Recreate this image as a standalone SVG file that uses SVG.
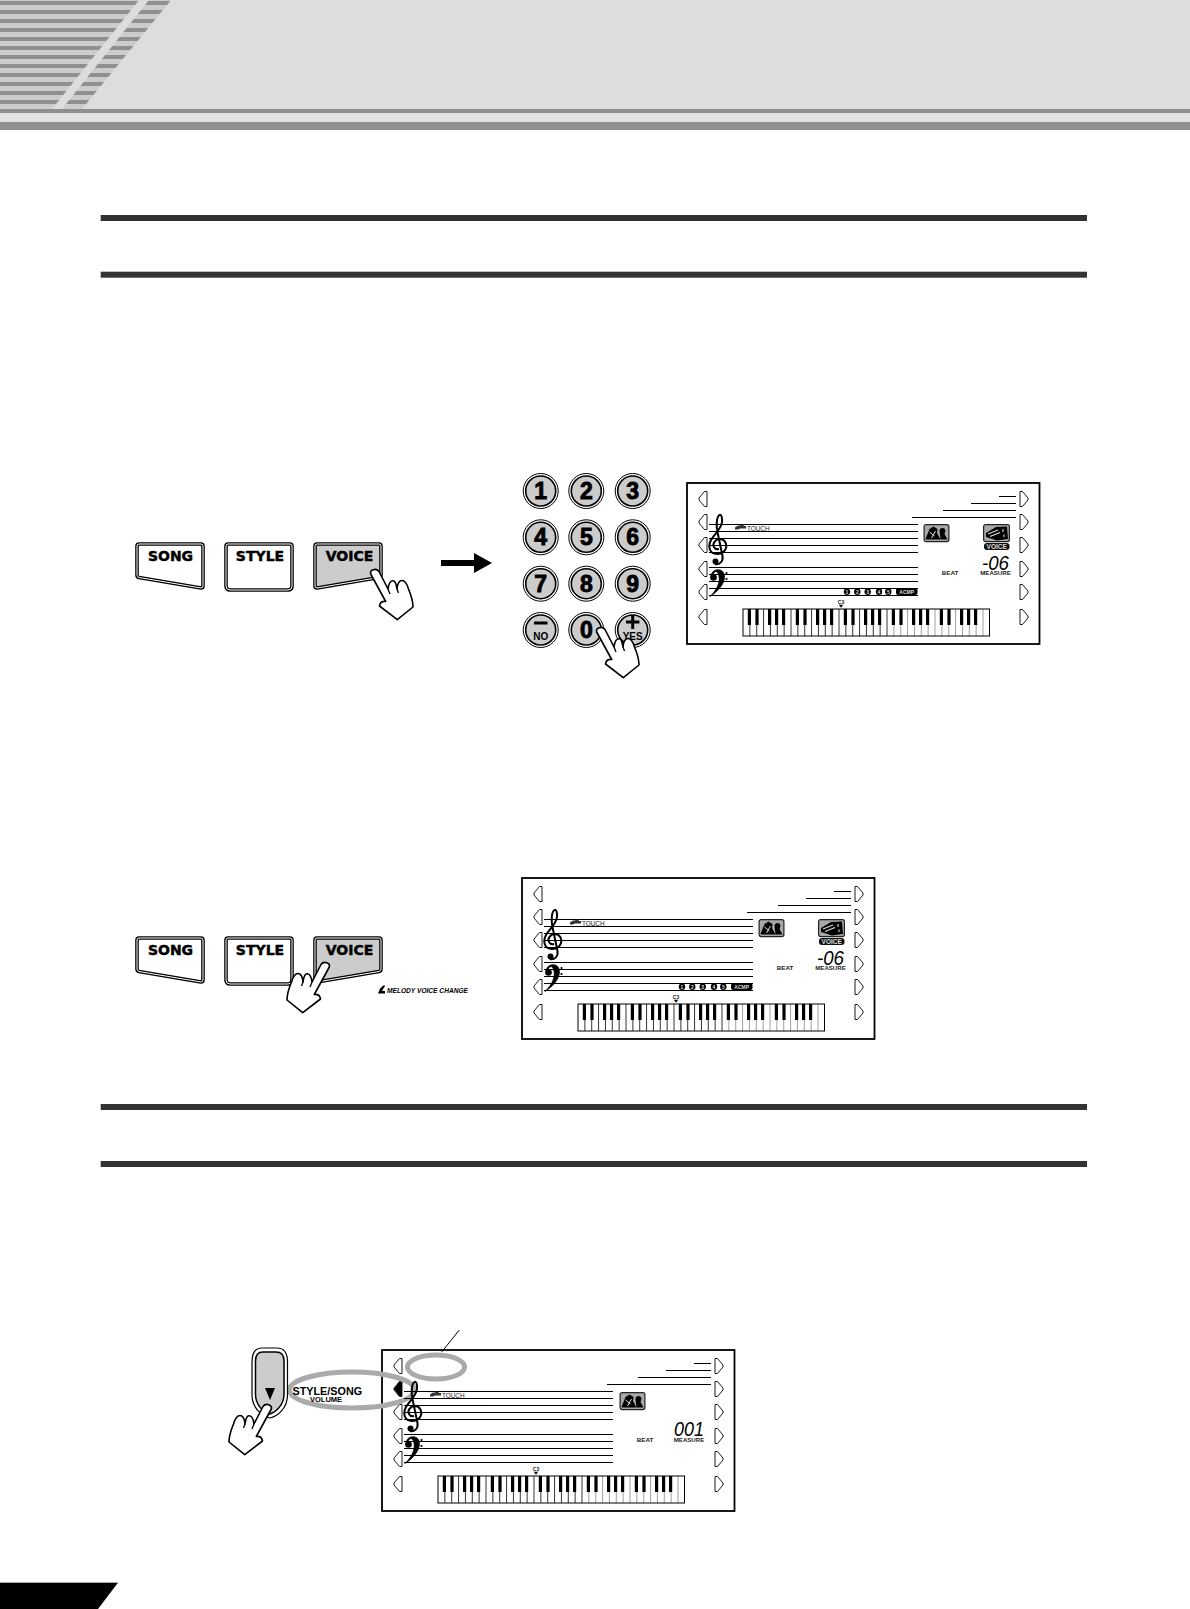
<svg xmlns="http://www.w3.org/2000/svg" width="1190" height="1609" viewBox="0 0 1190 1609">
<style>
text{font-family:"Liberation Sans",Arial,sans-serif;fill:#000}
.rule{fill:#333}
.btn{font-family:"DejaVu Sans",sans-serif;font-weight:700;font-size:14px;text-anchor:middle;stroke:#000;stroke-width:.45}
.dig{font-weight:700;font-size:23px;text-anchor:middle;stroke:#000;stroke-width:.9}
.tiny{font-weight:700;font-size:6px;text-anchor:middle;fill:#222}
.touch{font-size:6.4px;fill:#222}
.chip{font-weight:700;font-size:5px;text-anchor:middle;fill:#ddd}
.seg{font-style:italic;font-size:21px;fill:#000}
.l{stroke:#000;stroke-width:1;fill:none}
.ring{fill:#ccc;stroke:#000;stroke-width:1.6}
.ring2{fill:none;stroke:#000;stroke-width:1}
.o{fill:none;stroke:#aaa;stroke-width:5}
</style>
<defs>
<clipPath id="hz1"><polygon points="0,0 139,0 52,109 0,109"/></clipPath>
<clipPath id="hz2"><polygon points="149,0 171,0 82,109 62,109"/></clipPath>
<path id="stripes" d="M0 3H180M0 12H180M0 21H180M0 30H180M0 39H180M0 48H180M0 57H180M0 66H180M0 75H180M0 84H180M0 93H180M0 102H180" stroke="#909090" stroke-width="4" fill="none"/>
<g id="hand"><path d="M-2.3,4C-3.5,0 3,-2.5 6,1.5L15,19C15.5,13 18,10 21,11C23,12 23.5,16 24,19C24.500,14 26.5,10.5 29,10.5C32,10.5 34,14 35.5,19C38,25 40,31 40,37L24.3,49.7L6.5,36C7,33 9,31 12.7,31.5Z" fill="#fff" stroke="#000" stroke-width="1.6" stroke-linejoin="round"/><path d="M15,19L17,24M24,19L25.5,23" fill="none" stroke="#000" stroke-width="1.3"/></g>
<path id="bL" d="M2,3Q2,1 4,1H66Q68,1 68,3V43Q68,45 66,45L4,34.500Q2,34 2,32Z"/>
<path id="bS" d="M2,3Q2,1 4,1H66Q68,1 68,3V43Q68,47 64,47H6Q2,47 2,43Z"/>
<path id="bR" d="M2,3Q2,1 4,1H66Q68,1 68,3V32Q68,34 66,34.500L4,45Q2,45 2,43Z"/>
<g id="buttons">
<use href="#bL" x="135" y="543" fill="#fff" stroke="#000" stroke-width="3.6" stroke-linejoin="round"/><use href="#bL" x="135" y="543" fill="none" stroke="#fff" stroke-width="1"/>
<use href="#bS" x="224" y="543" fill="#fff" stroke="#000" stroke-width="3.6" stroke-linejoin="round"/><use href="#bS" x="224" y="543" fill="none" stroke="#fff" stroke-width="1"/>
<use href="#bR" x="313" y="543" fill="#ccc" stroke="#000" stroke-width="3.6" stroke-linejoin="round"/><use href="#bR" x="313" y="543" fill="none" stroke="#fff" stroke-width="1"/>
</g>
<path id="chevL" d="M5.5,-7.5H8V7.5H5.5L0,1V-1Z" fill="#fff" stroke="#000" stroke-width=".9"/>
<path id="chevR" d="M2.5,-7.5H0V7.5H2.5L8,1V-1Z" fill="#fff" stroke="#000" stroke-width=".9"/>
<g id="frame">
<rect x="1" y="1" width="352.500" height="161" fill="#fff" stroke="#000" stroke-width="1.800"/>
<use href="#chevL" x="13" y="17"/><use href="#chevL" x="13" y="40"/><use href="#chevL" x="13" y="63"/><use href="#chevL" x="13" y="87"/><use href="#chevL" x="13" y="110"/><use href="#chevL" x="13" y="135"/>
<use href="#chevR" x="334" y="17"/><use href="#chevR" x="334" y="40"/><use href="#chevR" x="334" y="63"/><use href="#chevR" x="334" y="87"/><use href="#chevR" x="334" y="110"/><use href="#chevR" x="334" y="135"/>
<path class="l" d="M313 14.500H330M285 21.500H330M257 28.500H330M226 35.500H330"/>
</g>
<g id="staff">
<path class="l" d="M23 42.500H232M23 49.500H232M23 56.500H232M23 63.500H232M23 70.500H232M23 85.500H232M23 92.500H232M23 99.500H232M23 106.500H232M23 113.500H232"/>
<path d="M33,67C28,68 26,63 28.500,60C31,56 37,56 39.500,60.500C42,66 38,72 31,72C23.500,72 22,65 24.500,59C27,53 35,48 36,40C36.500,35 35,32 33.500,33C30.500,35 30,43 31.500,50L36.500,74C37.500,80 33,83 29,82" fill="none" stroke="#000" stroke-width="2"/>
<circle cx="29.500" cy="79.500" r="3"/>
<circle cx="27.500" cy="95.500" r="3.300"/>
<path d="M25,96C24.500,88 32,86 36,89C41,93 39,105 24,114.500C33,106 35,97 32,91C30,88 27,90 26,96Z" stroke="#000" stroke-width=".8"/>
<circle cx="40.500" cy="91" r="1.100"/><circle cx="40.500" cy="97" r="1.100"/>
</g>
<g id="oct">
<path d="M6.860 0V27M13.710 0V27M20.570 0V27M27.430 0V27M34.290 0V27M41.140 0V27M48 0V27" fill="none" stroke="#000" stroke-width=".8"/>
<path d="M4.800 0h3.200v16h-3.200zM12.400 0h3.200v16h-3.200zM25 0h3.200v16h-3.200zM32 0h3.200v16h-3.200zM39 0h3.200v16h-3.200z"/>
</g>
<g id="octg">
<path d="M6.860 0V27M13.710 0V27M20.570 0V27M27.430 0V27M34.290 0V27M41.140 0V27M48 0V27" fill="none" stroke="#888" stroke-width=".8"/>
<path d="M4.800 0h3.200v16h-3.200zM12.400 0h3.200v16h-3.200zM25 0h3.200v16h-3.200zM32 0h3.200v16h-3.200zM39 0h3.200v16h-3.200z"/>
</g>
<g id="kbd">
<rect x="0" y="0" width="246.500" height="27" fill="#fff"/>
<use href="#oct"/><use href="#oct" x="48"/><use href="#oct" x="96"/><use href="#octg" x="144"/><use href="#octg" x="192"/>
<rect x="0" y="0" width="246.500" height="27" fill="none" stroke="#000" stroke-width="1"/>
</g>
<g id="icoA"><rect x="0.600" y="0.600" width="24.800" height="17" rx="2" fill="#a8a8a8" stroke="#222" stroke-width="1.200"/><path d="M2,15L6,5L10,2.500L14,5L13.500,9L17,15.500H3ZM16,7C16,3 22,3 22,7L21,10L24,15.500H17Z" fill="#000"/><path d="M6,8L11,12M8,14L12,7" stroke="#ddd" stroke-width="1"/></g>
<g id="icoB"><rect x="0.600" y="0.600" width="25.800" height="17" rx="2" fill="#a8a8a8" stroke="#222" stroke-width="1.200"/><path d="M3,9L13,3L24,2.500L25,15L14,16.500L3,13Z" fill="#000"/><path d="M5,10L15,6M7,12.500L17,8.500M20,5V8M21,10.500V13" stroke="#ddd" stroke-width="1.100"/></g>
<path id="c3m" d="M-2.200,0.200h4.400L0,3.200Z" fill="#000"/>
</defs>

<g id="header">
<rect x="0" y="0" width="1190" height="109" fill="#ddd"/>
<rect x="0" y="0" width="180" height="109" fill="#ccc" clip-path="url(#hz1)"/>
<rect x="0" y="0" width="180" height="109" fill="#ccc" clip-path="url(#hz2)"/>
<use href="#stripes" clip-path="url(#hz1)"/>
<use href="#stripes" clip-path="url(#hz2)"/>
<rect x="0" y="109" width="1190" height="4" fill="#909090"/>
<rect x="0" y="113" width="1190" height="9" fill="#e2e2e2"/>
<rect x="0" y="122" width="1190" height="8" fill="#909090"/>
</g>

<g id="rules">
<rect class="rule" x="100.700" y="215" width="986.300" height="6"/>
<rect class="rule" x="100.700" y="271.700" width="986.300" height="6"/>
<rect class="rule" x="100.700" y="1104" width="986.300" height="6"/>
<rect class="rule" x="100.700" y="1161" width="986.300" height="6"/>
</g>

<g id="panel-buttons-1">
<use href="#buttons"/>
<text class="btn" x="170.500" y="561">SONG</text>
<text class="btn" x="260" y="561">STYLE</text>
<text class="btn" x="349.500" y="561">VOICE</text>
<use href="#hand" x="373" y="570"/>
</g>

<g id="arrow"><path d="M441,560H474V553L492,563L474,573V566H441Z" fill="#000"/></g>

<g id="keypad">
<g id="k1"><circle class="ring2" cx="540.700" cy="491" r="17.500"/><circle class="ring" cx="540.700" cy="491" r="15"/><text class="dig" x="540.700" y="499">1</text></g>
<g id="k2"><circle class="ring2" cx="586.300" cy="491" r="17.500"/><circle class="ring" cx="586.300" cy="491" r="15"/><text class="dig" x="586.300" y="499">2</text></g>
<g id="k3"><circle class="ring2" cx="632.700" cy="491" r="17.500"/><circle class="ring" cx="632.700" cy="491" r="15"/><text class="dig" x="632.700" y="499">3</text></g>
<g id="k4"><circle class="ring2" cx="540.700" cy="537.300" r="17.500"/><circle class="ring" cx="540.700" cy="537.300" r="15"/><text class="dig" x="540.700" y="545.300">4</text></g>
<g id="k5"><circle class="ring2" cx="586.300" cy="537.300" r="17.500"/><circle class="ring" cx="586.300" cy="537.300" r="15"/><text class="dig" x="586.300" y="545.300">5</text></g>
<g id="k6"><circle class="ring2" cx="632.700" cy="537.300" r="17.500"/><circle class="ring" cx="632.700" cy="537.300" r="15"/><text class="dig" x="632.700" y="545.300">6</text></g>
<g id="k7"><circle class="ring2" cx="540.700" cy="583.700" r="17.500"/><circle class="ring" cx="540.700" cy="583.700" r="15"/><text class="dig" x="540.700" y="591.700">7</text></g>
<g id="k8"><circle class="ring2" cx="586.300" cy="583.700" r="17.500"/><circle class="ring" cx="586.300" cy="583.700" r="15"/><text class="dig" x="586.300" y="591.700">8</text></g>
<g id="k9"><circle class="ring2" cx="632.700" cy="583.700" r="17.500"/><circle class="ring" cx="632.700" cy="583.700" r="15"/><text class="dig" x="632.700" y="591.700">9</text></g>
<g id="kno"><circle class="ring2" cx="540.700" cy="630" r="17.500"/><circle class="ring" cx="540.700" cy="630" r="15"/><rect x="534" y="621.500" width="13.500" height="3"/><text x="540.700" y="640" font-size="10" font-weight="700" text-anchor="middle">NO</text></g>
<g id="k0"><circle class="ring2" cx="586.300" cy="630" r="17.500"/><circle class="ring" cx="586.300" cy="630" r="15"/><text class="dig" x="586.300" y="638">0</text></g>
<g id="kyes"><circle class="ring2" cx="632.700" cy="630" r="17.500"/><circle class="ring" cx="632.700" cy="630" r="15"/><path d="M626,620.500h5.200v-5.500h3v5.500h5.200v3h-5.200v5.500h-3v-5.500h-5.200z"/><text x="632.700" y="640" font-size="10" font-weight="700" text-anchor="middle">YES</text></g>
<use href="#hand" x="599" y="628"/>
</g>

<g id="lcd-1" transform="translate(686,482)">
<use href="#frame"/><use href="#staff"/>
<use href="#kbd" x="57" y="127"/>
<use href="#c3m" x="155" y="122.500"/><text class="tiny" x="155" y="121.500" style="font-size:5px">C3</text>
<path d="M49,45.500l3-2h2l1-1h2l1,1.500h2v2.500h-6l-2,1h-3z" fill="#333"/><text class="touch" x="61" y="48.500">TOUCH</text>
<use href="#icoA" x="237.500" y="42"/><use href="#icoB" x="297" y="42"/>
<rect x="298" y="61" width="25.500" height="7" rx="3" fill="#111"/><text class="tiny" x="310.700" y="66.800" style="fill:#ddd;font-size:6.500px">VOICE</text>
<text class="seg" x="296" y="88" textLength="27" lengthAdjust="spacingAndGlyphs">-06</text>
<text class="tiny" x="264" y="92.500" textLength="16.500" lengthAdjust="spacingAndGlyphs">BEAT</text><text class="tiny" x="309.500" y="92.500" textLength="30.500" lengthAdjust="spacingAndGlyphs">MEASURE</text>
<g id="chips-1"><circle cx="161" cy="109.700" r="3.200"/><circle cx="171.300" cy="109.700" r="3.200"/><circle cx="181.700" cy="109.700" r="3.200"/><circle cx="193" cy="109.700" r="3.200"/><circle cx="202.300" cy="109.700" r="3.200"/><rect x="210" y="106" width="21.500" height="7" rx="2.500"/>
<text class="chip" x="161" y="111.500">1</text><text class="chip" x="171.300" y="111.500">2</text><text class="chip" x="181.700" y="111.500">3</text><text class="chip" x="193" y="111.500">4</text><text class="chip" x="202.300" y="111.500">5</text><text class="chip" x="220.700" y="111.500">ACMP</text></g>
</g>

<g id="panel-buttons-2" transform="translate(0,394)">
<use href="#buttons"/>
<text class="btn" x="170.500" y="561">SONG</text>
<text class="btn" x="260" y="561">STYLE</text>
<text class="btn" x="349.500" y="561">VOICE</text>
</g>
<use id="hand-2" href="#hand" transform="translate(327,963) scale(-1,1)"/>
<g id="melody"><path d="M378,993.500l2-5l4-3.500l1,1l-3,5l3,0v2.500z"/><text x="387" y="993" font-size="7.500" font-weight="700" font-style="italic" textLength="81" lengthAdjust="spacingAndGlyphs">MELODY VOICE CHANGE</text></g>

<g id="lcd-2" transform="translate(521,877)">
<use href="#frame"/><use href="#staff"/>
<use href="#kbd" x="57" y="127"/>
<use href="#c3m" x="155" y="122.500"/><text class="tiny" x="155" y="121.500" style="font-size:5px">C3</text>
<path d="M49,45.500l3-2h2l1-1h2l1,1.500h2v2.500h-6l-2,1h-3z" fill="#333"/><text class="touch" x="61" y="48.500">TOUCH</text>
<use href="#icoA" x="237.500" y="42"/><use href="#icoB" x="297" y="42"/>
<rect x="298" y="61" width="25.500" height="7" rx="3" fill="#111"/><text class="tiny" x="310.700" y="66.800" style="fill:#ddd;font-size:6.500px">VOICE</text>
<text class="seg" x="296" y="88" textLength="27" lengthAdjust="spacingAndGlyphs">-06</text>
<text class="tiny" x="264" y="92.500" textLength="16.500" lengthAdjust="spacingAndGlyphs">BEAT</text><text class="tiny" x="309.500" y="92.500" textLength="30.500" lengthAdjust="spacingAndGlyphs">MEASURE</text>
<g id="chips-2"><circle cx="161" cy="109.700" r="3.200"/><circle cx="171.300" cy="109.700" r="3.200"/><circle cx="181.700" cy="109.700" r="3.200"/><circle cx="193" cy="109.700" r="3.200"/><circle cx="202.300" cy="109.700" r="3.200"/><rect x="210" y="106" width="21.500" height="7" rx="2.500"/>
<text class="chip" x="161" y="111.500">1</text><text class="chip" x="171.300" y="111.500">2</text><text class="chip" x="181.700" y="111.500">3</text><text class="chip" x="193" y="111.500">4</text><text class="chip" x="202.300" y="111.500">5</text><text class="chip" x="220.700" y="111.500">ACMP</text></g>
</g>

<g id="lcd-3" transform="translate(381,1349)">
<use href="#frame"/>
</g>
<g id="ovals">
<ellipse class="o" cx="352" cy="1390" rx="62.500" ry="18"/>
<ellipse class="o" cx="436" cy="1367" rx="28.500" ry="12"/>
</g>
<g id="lcd-3-content" transform="translate(381,1349)">
<use href="#staff"/>
<path d="M13,40L18,33H21V47H18Z" fill="#000"/>
<use href="#kbd" x="57" y="127"/>
<use href="#c3m" x="155" y="122.500"/><text class="tiny" x="155" y="121.500" style="font-size:5px">C3</text>
<path d="M49,45.500l3-2h2l1-1h2l1,1.500h2v2.500h-6l-2,1h-3z" fill="#333"/><text class="touch" x="61" y="48.500">TOUCH</text>
<use href="#icoA" x="238.500" y="43"/>
<text class="seg" x="293" y="87" textLength="30" lengthAdjust="spacingAndGlyphs">001</text>
<text class="tiny" x="264" y="92.500" textLength="16.500" lengthAdjust="spacingAndGlyphs">BEAT</text><text class="tiny" x="308" y="92.500" textLength="30.500" lengthAdjust="spacingAndGlyphs">MEASURE</text>
</g>
<g id="connectors"><path d="M441.700,1352L459.300,1330" stroke="#000" stroke-width="1" fill="none"/></g>

<g id="down-button">
<path d="M252,1362C252,1352 256,1348 262,1348H277C283,1348 287.500,1352 287.500,1362V1395C287.500,1408 278,1416 270,1418C262,1416 252,1408 252,1395Z" fill="#fff" stroke="#000" stroke-width="1.200"/>
<path d="M255.500,1361C255.500,1354 259,1352 263,1352H276C280,1352 284,1354 284,1361V1394C284,1405 276,1412 270,1414C263,1412 255.500,1405 255.500,1394Z" fill="#ccc" stroke="#000" stroke-width="1.500"/>
<path d="M265,1388H275L270,1400Z" fill="#000"/>
<text x="292.500" y="1395" font-size="10.800" font-weight="700">STYLE/SONG</text>
<text x="310" y="1402" font-size="7.500" font-weight="700">VOLUME</text>
<use href="#hand" transform="translate(269,1405) scale(-1,1)"/>
</g>

<g id="footer"><polygon points="0,1582 118.500,1582 98,1609 0,1609" fill="#000"/><rect x="0" y="1582" width="118" height="1" fill="#aaa"/></g>
</svg>
